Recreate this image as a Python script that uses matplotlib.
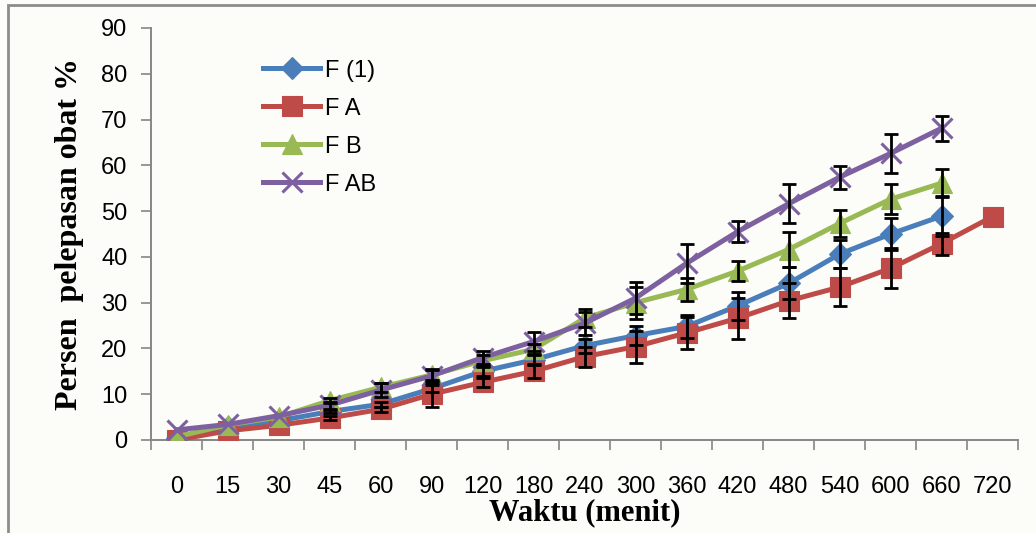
#!/usr/bin/env python3
"""Drug release profile (persen pelepasan obat) for four formulas over time."""

import matplotlib

matplotlib.use("Agg")
import matplotlib.pyplot as plt
import numpy as np
from matplotlib.patches import Rectangle

# sampling times (menit), plotted as categories
waktu = ["0", "15", "30", "45", "60", "90", "120", "180", "240", "300",
         "360", "420", "480", "540", "600", "660", "720"]

nan = np.nan
f1 = [0.5, 2.8, 4.2, 6.2, 7.8, 11.2, 15.0, 17.5, 20.6, 22.8, 24.8, 29.3,
      34.2, 40.6, 45.0, 48.9, nan]
fa = [0.0, 2.0, 3.2, 4.8, 6.7, 10.0, 12.6, 15.0, 18.2, 20.4, 23.4, 26.6,
      30.4, 33.4, 37.5, 42.9, 48.8]
fb = [0.7, 3.3, 5.0, 8.6, 11.5, 14.2, 17.3, 19.8, 26.6, 30.0, 32.9, 36.9,
      41.6, 47.3, 52.6, 56.1, nan]
fab = [2.2, 3.4, 5.3, 7.6, 10.9, 14.0, 18.0, 21.5, 25.5, 31.0, 38.6, 45.5,
       51.6, 57.4, 62.6, 68.1, nan]

# standard deviations (nan = no bar drawn)
sd_f1 = [nan, nan, nan, 0.4, 0.6, 0.8, 1.0, 1.2, 1.5, 2.0, 2.5, 3.0,
         3.5, 3.0, 3.5, 4.3, nan]
sd_fa = [nan, nan, nan, 0.4, 0.6, 2.8, 1.0, 1.5, 2.2, 3.5, 3.5, 4.5,
         3.8, 4.1, 4.4, 2.4, nan]
sd_fb = [nan, nan, nan, 0.6, 1.0, 1.0, 1.2, 1.2, 2.0, 3.5, 2.5, 2.2,
         3.8, 3.0, 3.3, 3.0, nan]
sd_fab = [nan, nan, nan, 0.8, 1.5, 1.5, 1.5, 2.0, 2.5, 3.5, 4.2, 2.3,
          4.3, 2.5, 4.2, 2.7, nan]

series = [
    ("F (1)", f1, sd_f1, "#4A7EBB", "D", 11),
    ("F A", fa, sd_fa, "#BE4B48", "s", 14),
    ("F B", fb, sd_fb, "#98B954", "^", 15),
    ("F AB", fab, sd_fab, "#7D60A0", "x", 14),
]

tick_font = ["Liberation Sans Narrow", "Liberation Sans", "DejaVu Sans"]
title_font = ["Liberation Serif", "DejaVu Serif"]

fig = plt.figure(figsize=(10.36, 5.33), dpi=100, facecolor="#fcfcf8")
ax = fig.add_axes([0.1458, 0.1745, 0.8369, 0.773])
ax.set_facecolor("none")

# thin frame around the chart area
fig.patches.append(Rectangle((8 / 1036, -0.05), 1.1, 1 - 5 / 533 + 0.05,
                             transform=fig.transFigure, fill=False,
                             edgecolor="#8c8c8c", lw=2.0, zorder=0))

x = np.arange(len(waktu))
for name, vals, sd, color, marker, ms in series:
    vals = np.array(vals, dtype=float)
    sd = np.array(sd, dtype=float)
    ok = ~np.isnan(vals)
    ax.plot(x[ok], vals[ok], color=color, lw=3.6, marker=marker,
            markersize=ms, markeredgewidth=2.2 if marker == "x" else 0.8,
            markeredgecolor=color, markerfacecolor=color, label=name,
            zorder=3)
    bar = ~np.isnan(sd)
    ax.errorbar(x[bar], vals[bar], yerr=sd[bar], fmt="none",
                ecolor="black", elinewidth=2.0, capsize=5, capthick=2.0,
                zorder=4)

ax.set_xlim(-0.5, len(waktu) - 0.5)
ax.set_ylim(0, 90)
ax.set_yticks(range(0, 91, 10))
ax.set_xticks(x)
ax.set_xticklabels(waktu)
ax.set_xticks(np.arange(-0.5, len(waktu), 1.0), minor=True)
ax.tick_params(axis="x", which="major", length=0, pad=26)
ax.tick_params(axis="x", which="minor", length=7, width=1.2,
               color="#868686", direction="out")
ax.tick_params(axis="y", length=7, width=1.2, color="#868686",
               direction="out", pad=10)
for lab in ax.get_xticklabels() + ax.get_yticklabels():
    lab.set_family(tick_font)
    lab.set_fontsize(17)

for side in ("top", "right"):
    ax.spines[side].set_visible(False)
for side in ("left", "bottom"):
    ax.spines[side].set_color("#868686")
    ax.spines[side].set_linewidth(1.4)

ax.set_xlabel("Waktu (menit)", family=title_font, fontweight="bold",
              fontsize=22, labelpad=0)
ax.set_ylabel("Persen  pelepasan obat %", family=title_font,
              fontweight="bold", fontsize=23, labelpad=12)

leg = ax.legend(loc="upper left", bbox_to_anchor=(0.105, 0.975),
                frameon=False, handlelength=2.4, labelspacing=0.68,
                handletextpad=0.2, prop={"family": tick_font, "size": 17})

fig.savefig("out.png", dpi=100, facecolor=fig.get_facecolor())
